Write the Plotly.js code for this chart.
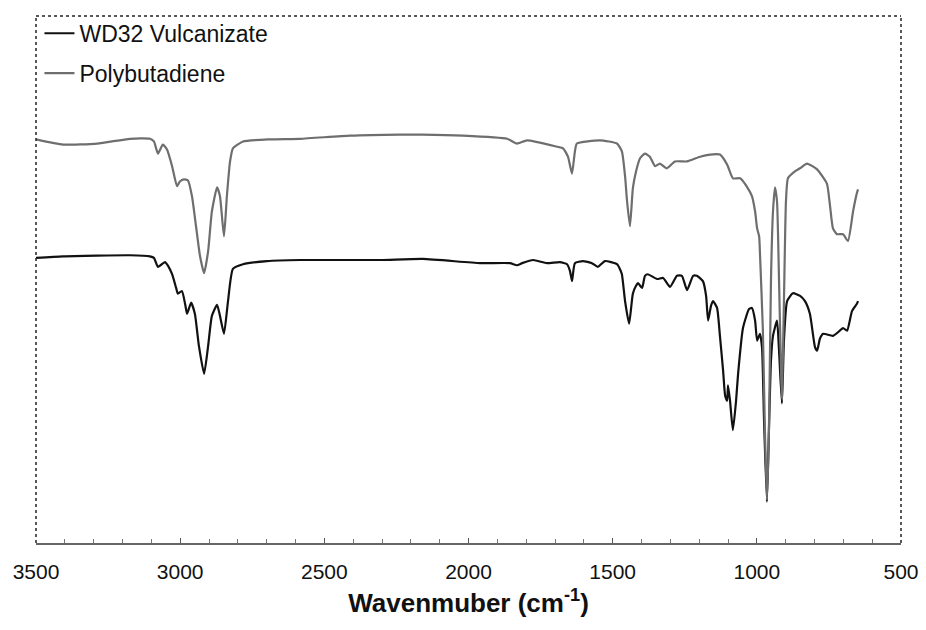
<!DOCTYPE html>
<html>
<head>
<meta charset="utf-8">
<script src="https://cdn.plot.ly/plotly-3.0.1.min.js"></script>
<style>html,body{margin:0;padding:0;background:#fff;}#chart{width:926px;height:630px;}</style>
</head>
<body>
<div id="chart"></div>
<script>
// Wavenumber (cm-1) and relative transmittance readings
const pbWavenumber = [3500,3406,3288,3174,3105,3091,3077,3060,3046,3028,3011,3001,2987,2973,2959,2945,2931,2917,2903,2890,2872,2862,2848,2838,2827,2817,2782,2688,2584,2411,2238,2161,2019,1866,1832,1797,1693,1672,1655,1641,1631,1624,1544,1485,1468,1457,1450,1440,1430,1419,1405,1388,1371,1353,1336,1312,1284,1242,1197,1162,1128,1103,1083,1058,1031,1017,1006,999,992,989,979,972,965,958,951,944,937,930,923,916,913,906,899,892,868,850,826,791,757,746,736,722,701,684,666,653,649];
const pbValues = [76.6,75.6,75.8,76.7,76.7,76.2,73.9,75.6,74.7,71.5,67.7,68.6,69.0,68.8,65.8,60.1,54.4,51.2,55.4,62.9,67.5,65.8,58.2,65.8,72.4,74.9,76.2,76.6,76.7,77.3,77.5,77.5,77.3,76.7,75.8,76.4,75.2,74.9,73.3,70.1,74.3,75.8,76.4,75.8,74.3,69.6,64.8,60.1,67.3,70.5,73.0,73.9,73.3,71.5,72.0,71.1,72.4,72.4,73.3,73.7,73.7,71.8,69.2,69.2,67.3,65.8,62.9,59.7,58.2,54.8,40.3,21.4,8.1,21.4,49.7,62.9,67.5,64.8,49.7,32.7,27.4,45.9,64.8,69.2,70.5,71.1,72.0,70.9,68.2,63.9,59.7,58.6,58.6,57.3,63.0,66.4,67.1];

const wdWavenumber = [3500,3406,3174,3105,3091,3077,3053,3042,3028,3014,3008,2994,2983,2976,2962,2949,2935,2917,2903,2890,2872,2862,2848,2834,2817,2782,2699,2584,2307,2158,1960,1856,1832,1814,1776,1728,1683,1658,1648,1641,1631,1603,1572,1551,1527,1485,1475,1468,1457,1443,1430,1419,1412,1398,1388,1378,1346,1325,1301,1277,1260,1242,1221,1208,1187,1176,1169,1159,1152,1138,1128,1117,1110,1103,1100,1093,1083,1072,1065,1048,1027,1017,1006,999,989,982,975,965,958,951,944,930,923,913,906,895,875,850,833,816,798,791,781,770,736,712,701,687,670,653,649];
const wdValues = [54.1,54.4,54.6,54.4,54.1,52.4,53.3,52.6,51.0,48.4,47.3,47.8,45.4,43.5,45.6,43.5,37.4,32.1,37.4,43.1,45.2,43.1,39.7,45.9,52.0,52.9,53.5,53.7,53.7,53.9,53.1,53.1,52.7,53.1,53.7,53.1,53.3,52.9,51.6,49.7,53.1,53.5,53.1,52.4,53.5,52.9,52.0,51.0,45.9,41.6,47.3,48.8,49.3,48.4,50.7,51.0,50.1,50.3,48.6,50.7,50.7,48.0,50.7,50.7,49.7,46.9,42.2,45.0,45.9,44.6,39.3,32.7,28.0,27.0,29.9,27.0,21.4,27.0,32.1,40.8,44.4,44.6,42.2,38.4,39.7,37.1,23.3,7.8,21.4,34.6,39.3,42.2,36.5,26.5,38.4,45.9,47.4,46.9,45.9,43.5,37.1,36.5,38.8,39.7,39.3,40.3,40.8,40.3,44.0,45.4,45.9];

const seriesNames = ["WD32 Vulcanizate", "Polybutadiene"];
const xTickValues = [3500,3000,2500,2000,1500,1000,500];
const xTickLabels = ["3500","3000","2500","2000","1500","1000","500"];
const xTitle = "Wavenmuber (cm<sup>-1</sup>)";

const traces = [
  {x: wdWavenumber, y: wdValues, name: seriesNames[0], type: "scatter", mode: "lines",
   line: {color: "#111111", width: 2.2, shape: "spline", smoothing: 0.5}, legendgroup: "a"},
  {x: pbWavenumber, y: pbValues, name: seriesNames[1], type: "scatter", mode: "lines",
   line: {color: "#6e6e6e", width: 2.2, shape: "spline", smoothing: 0.5}, legendgroup: "b"}
];

const layout = {
  width: 926, height: 630,
  margin: {l: 36, r: 25, t: 14, b: 87},
  paper_bgcolor: "#ffffff", plot_bgcolor: "#ffffff",
  font: {family: "Liberation Sans, Arial, sans-serif", color: "#111111"},
  showlegend: true,
  legend: {x: 0.004, y: 1.008, xanchor: "left", yanchor: "top", bgcolor: "rgba(0,0,0,0)",
           font: {size: 23, color: "#111111"}, traceorder: "grouped", tracegroupgap: 7,
           itemwidth: 30},
  xaxis: {range: [3500, 500], tickvals: xTickValues, ticktext: xTickLabels,
          tickfont: {size: 21, color: "#111111"}, ticks: "inside", ticklen: 5, tickcolor: "#555",
          ticklabelstandoff: 9,
          minor: {dtick: 100, ticks: "inside", ticklen: 4, tickcolor: "#777"},
          showgrid: false, zeroline: false, showline: true, linecolor: "#666", linewidth: 2,
          title: {text: xTitle, font: {size: 26, color: "#111111", family: "Liberation Sans, Arial, sans-serif", weight: "bold"}, standoff: 12}},
  yaxis: {range: [0, 100], showticklabels: false, ticks: "", showgrid: false, zeroline: false, showline: false},
  shapes: [
    {type: "line", xref: "paper", yref: "paper", x0: 0, x1: 0, y0: 0, y1: 1, line: {color: "#222", width: 1.5, dash: "dot"}},
    {type: "line", xref: "paper", yref: "paper", x0: 0, x1: 1, y0: 1, y1: 1, line: {color: "#222", width: 1.5, dash: "dot"}},
    {type: "line", xref: "paper", yref: "paper", x0: 1, x1: 1, y0: 0, y1: 1, line: {color: "#222", width: 1.5, dash: "dot"}}
  ]
};

Plotly.newPlot("chart", traces, layout, {displayModeBar: false, staticPlot: true});
</script>
</body>
</html>
